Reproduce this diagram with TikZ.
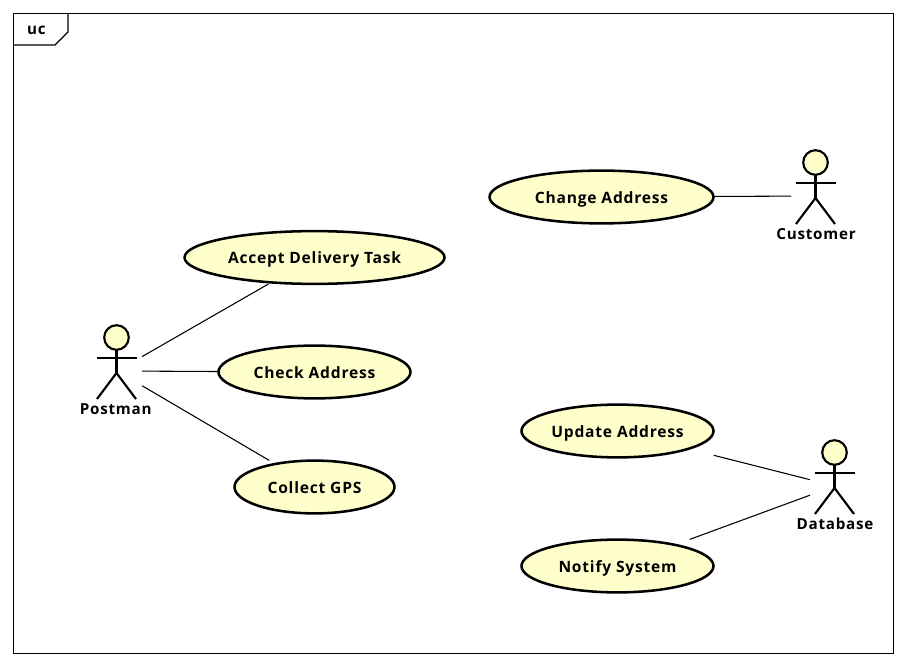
\documentclass[tikz,border=0pt]{standalone}
\usepackage{fontspec}
\setmainfont{Open Sans}[LetterSpace=5]
\usepackage{xcolor}
\usetikzlibrary{shapes.geometric, positioning, fit}
\definecolor{usefill}{HTML}{FFFFCC}

\tikzset{
    stickman/.pic={
        \draw[line width=1.6pt, fill=usefill] (-0.5,-33.5) circle (12.3);
        \draw[line width=1.6pt] (-0.5,-21) -- (-0.5,2);
        \draw[line width=1.6pt] (-20.5,-13) -- (19.5,-13);
        \draw[line width=1.6pt] (-20,28) -- (-0.5,2) -- (19,28);
    }
}

\begin{document}
\begin{tikzpicture}[
    x=0.75pt,
    y=-0.75pt,
    node distance=0pt,
    usecase/.style={
        ellipse,
        draw,
        line width=1.9pt,
        fill=usefill,
        inner sep=0pt,
        minimum height=39.6pt,
        text height=9.5pt,
        text depth=0pt,
        font=\fontsize{11.7}{12}\selectfont\bfseries
    },
    casebox/.style={
        fit=#1,
        rectangle,
        inner sep=-0.8pt,
        outer sep=0pt
    },
    actor/.style={
        rectangle,
        inner sep=0pt,
        outer sep=0pt,
        minimum width=37.5pt,
        minimum height=48pt
    },
    actorname/.style={
        inner sep=0pt,
        text height=8.5pt,
        text depth=2pt,
        font=\fontsize{11.4}{12}\selectfont\bfseries
    },
    assoc/.style={line width=0.8pt}
]
  \useasboundingbox (0,0) rectangle (906,666);

  % frame
  \node[draw, line width=0.8pt, rectangle, inner sep=0pt, outer sep=0pt,
        minimum width=660pt, minimum height=480pt, anchor=north west] (frame) at (13.5,13.5) {};
  \coordinate (tabA) at (13.5,45);
  \coordinate (tabB) at (55,45);
  \coordinate (tabC) at (68,32);
  \coordinate (tabD) at (68,13.5);
  \draw[line width=0.8pt] (tabA) -- (tabB) -- (tabC) -- (tabD);
  \node[font=\fontsize{11.4}{12}\selectfont\bfseries, inner sep=0pt] (tabname) at (36.5,30) {uc};

  % use cases
  \node[usecase, minimum width=195pt] (acceptoval) at (314.5,257.5) {Accept Delivery Task};
  \node[usecase, minimum width=144pt] (checkoval) at (314.5,372) {Check Address};
  \node[usecase, minimum width=120pt] (collectoval) at (314.5,487) {Collect GPS};
  \node[usecase, minimum width=168pt] (changeoval) at (601.5,197) {Change Address};
  \node[usecase, minimum width=144pt] (updateoval) at (617.5,431) {Update Address};
  \node[usecase, minimum width=144pt] (notifyoval) at (617.5,566) {Notify System};
  \node[casebox=(acceptoval)] (accept) {};
  \node[casebox=(checkoval)] (check) {};
  \node[casebox=(collectoval)] (collect) {};
  \node[casebox=(changeoval)] (change) {};
  \node[casebox=(updateoval)] (update) {};
  \node[casebox=(notifyoval)] (notify) {};

  % actors
  \node[actor] (postman) at (117,371) {};
  \node[actor] (customer) at (816,196) {};
  \node[actor] (database) at (835,486) {};
  \pic at (postman) {stickman};
  \pic at (customer) {stickman};
  \pic at (database) {stickman};
  \node[actorname, below=of postman, xshift=-1pt] (postmanname) {Postman};
  \node[actorname, below=of customer] (customername) {Customer};
  \node[actorname, below=of database] (databasename) {Database};

  \draw[assoc] (postman) -- (accept);
  \draw[assoc] (postman) -- (check);
  \draw[assoc] (postman) -- (collect);
  \draw[assoc] (change) -- (customer);
  \draw[assoc] (update) -- (database);
  \draw[assoc] (notify) -- (database);
\end{tikzpicture}
\end{document}
